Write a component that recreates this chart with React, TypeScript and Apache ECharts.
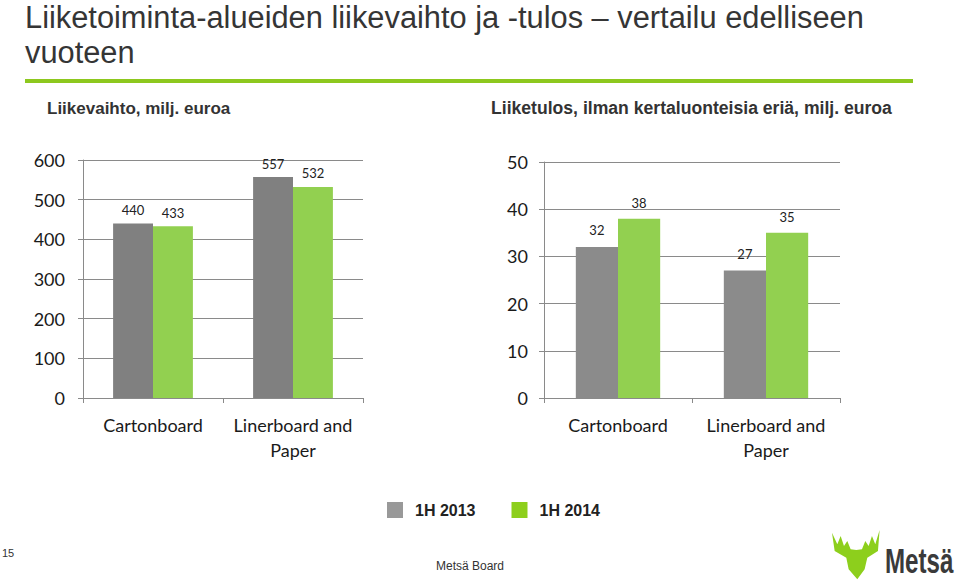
import React, { useEffect, useRef } from 'react';
import * as echarts from 'echarts';

const categories = ['Cartonboard', 'Linerboard and\nPaper'];
const seriesNames = ['1H 2013', '1H 2014'];
const sales2013 = [440, 557];
const sales2014 = [433, 532];
const result2013 = [32, 27];
const result2014 = [38, 35];
const salesAxis = [0, 600, 100];
const resultAxis = [0, 50, 10];

const titleLine1 = 'Liiketoiminta-alueiden liikevaihto ja -tulos – vertailu edelliseen';
const titleLine2 = 'vuoteen';
const subLeft = 'Liikevaihto, milj. euroa';
const subRight = 'Liiketulos, ilman kertaluonteisia eriä, milj. euroa';

const GRAY_L = '#808080';
const GRAY_R = '#8b8b8b';
const GREEN = '#92D050';
const LOGO_GREEN = '#8DCF1C';
const LINE = '#8a8a8a';
const AXFONT = 'Lato, "Open Sans", sans-serif';
const HFONT = '"Liberation Sans", Arial, sans-serif';

function yAxis(gridIndex: number, cfg: number[], margin: number) {
  return {
    type: 'value',
    gridIndex,
    min: cfg[0],
    max: cfg[1],
    interval: cfg[2],
    axisLine: { show: true, lineStyle: { color: LINE, width: 1 } },
    axisTick: { show: true, length: 5, lineStyle: { color: LINE } },
    splitLine: { show: true, lineStyle: { color: LINE, width: 1 } },
    axisLabel: { fontFamily: AXFONT, fontSize: 18, color: '#1a1a1a', margin },
  };
}

function xAxis(gridIndex: number) {
  return {
    type: 'category',
    gridIndex,
    data: categories,
    axisLine: { show: true, lineStyle: { color: LINE, width: 1 } },
    axisTick: { show: true, length: 5, lineStyle: { color: LINE } },
    axisLabel: {
      fontFamily: AXFONT,
      fontSize: 18,
      color: '#1a1a1a',
      lineHeight: 25,
      margin: 14,
      interval: 0,
    },
  };
}

const dataLabel = {
  show: true,
  position: 'top',
  distance: 7,
  fontFamily: AXFONT,
  fontSize: 13,
  color: '#222',
};

export default function App() {
  const ref = useRef<HTMLDivElement>(null);
  useEffect(() => {
    if (!ref.current) return;
    const chart = echarts.init(ref.current, null, { renderer: 'svg' });

    // logo outline (drawn at 3x, scaled down)
    const moose = [
      [12, 20], [28, 55], [38, 30], [48, 60], [58, 45], [68, 70], [85, 72],
      [102, 70], [112, 45], [122, 60], [132, 30], [142, 55], [155, 12],
      [150, 75], [118, 95], [110, 130], [88, 160], [62, 130], [55, 95], [20, 75],
    ];

    chart.setOption({
      animation: false,
      backgroundColor: '#ffffff',
      grid: [
        { left: 83, top: 160, width: 280, height: 238 },
        { left: 544, top: 162, width: 296, height: 236 },
      ],
      xAxis: [xAxis(0), xAxis(1)],
      yAxis: [yAxis(0, salesAxis, 18), yAxis(1, resultAxis, 16)],
      legend: {
        left: 387,
        top: 502,
        padding: 0,
        itemWidth: 16,
        itemHeight: 16,
        itemGap: 36,
        icon: 'rect',
        textStyle: {
          fontFamily: HFONT,
          fontWeight: 'bold',
          fontSize: 16,
          color: '#222',
          padding: [0, 0, 0, 7],
        },
        data: [
          { name: seriesNames[0], itemStyle: { color: '#999999' } },
          { name: seriesNames[1], itemStyle: { color: LOGO_GREEN } },
        ],
      },
      series: [
        {
          name: seriesNames[0], type: 'bar', xAxisIndex: 0, yAxisIndex: 0,
          data: sales2013, barGap: '0%', barCategoryGap: '43%',
          itemStyle: { color: GRAY_L }, label: dataLabel,
        },
        {
          name: seriesNames[1], type: 'bar', xAxisIndex: 0, yAxisIndex: 0,
          data: sales2014, barGap: '0%', barCategoryGap: '43%',
          itemStyle: { color: GREEN }, label: dataLabel,
        },
        {
          name: seriesNames[0], type: 'bar', xAxisIndex: 1, yAxisIndex: 1,
          data: result2013, barGap: '0%', barCategoryGap: '43%',
          itemStyle: { color: GRAY_R }, label: { ...dataLabel, distance: 10 },
        },
        {
          name: seriesNames[1], type: 'bar', xAxisIndex: 1, yAxisIndex: 1,
          data: result2014, barGap: '0%', barCategoryGap: '43%',
          itemStyle: { color: GREEN }, label: { ...dataLabel, distance: 9 },
        },
      ],
      graphic: [
        {
          type: 'text', x: 25, y: 17,
          style: { text: titleLine1, font: `30.8px ${HFONT}`, fill: '#353535', textVerticalAlign: 'middle' },
        },
        {
          type: 'text', x: 25, y: 52,
          style: { text: titleLine2, font: `30.8px ${HFONT}`, fill: '#353535', textVerticalAlign: 'middle' },
        },
        {
          type: 'rect', shape: { x: 25, y: 79, width: 888, height: 4 },
          style: { fill: '#8DC81E' },
        },
        {
          type: 'text', x: 47, y: 108,
          style: { text: subLeft, font: `bold 17px ${HFONT}`, fill: '#333', textVerticalAlign: 'middle' },
        },
        {
          type: 'text', x: 491, y: 108,
          style: { text: subRight, font: `bold 17.6px ${HFONT}`, fill: '#333', textVerticalAlign: 'middle' },
        },
        {
          type: 'text', x: 2, y: 553,
          style: { text: '15', font: `11px ${HFONT}`, fill: '#333', textVerticalAlign: 'middle' },
        },
        {
          type: 'text', x: 470, y: 566,
          style: { text: 'Metsä Board', font: `12px ${HFONT}`, fill: '#333', textAlign: 'center', textVerticalAlign: 'middle' },
        },
        {
          type: 'polygon', x: 828, y: 526, scaleX: 1 / 3, scaleY: 1 / 3,
          shape: { points: moose },
          style: { fill: LOGO_GREEN },
        },
        {
          type: 'text', x: 885, y: 561, scaleX: 0.69,
          style: { text: 'Metsä', font: `bold 35px ${HFONT}`, fill: '#3a3a3a', textVerticalAlign: 'middle' },
        },
      ],
    });
    return () => chart.dispose();
  }, []);
  return (
    <div
      ref={ref}
      style={{ position: 'absolute', left: 0, top: 0, width: 960, height: 580 }}
    />
  );
}
